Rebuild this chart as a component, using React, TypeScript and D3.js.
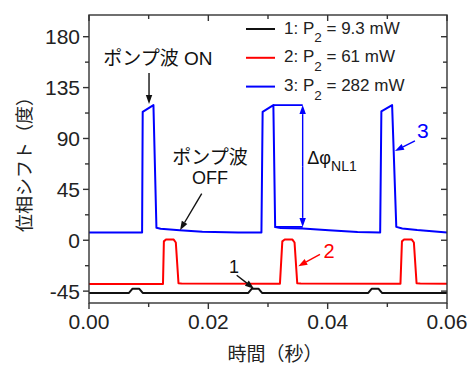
import React from "react";
import * as d3 from "d3";

const width = 470;
const height = 365;
const margin = { top: 15, right: 23, bottom: 62, left: 89 };

// [time (s), phase shift (deg)]
const series1: [number, number][] = [
  [0, -46.6], [0.0067, -46.6], [0.0073, -42.8], [0.0084, -42.8], [0.009, -46.6],
  [0.0267, -46.6], [0.0273, -42.8], [0.0284, -42.8], [0.029, -46.6],
  [0.0468, -46.6], [0.0474, -42.8], [0.0485, -42.8], [0.0491, -46.6], [0.06, -46.6],
];
const series2: [number, number][] = [
  [0, -38.8], [0.0124, -38.6], [0.01255, -1], [0.0129, 0.6], [0.0142, 0.6], [0.01455, -2],
  [0.015, -38], [0.0155, -38.3], [0.032, -38.5], [0.0324, -1], [0.0328, 0.6], [0.0341, 0.6],
  [0.03445, -2], [0.0349, -38], [0.0355, -38.3], [0.0522, -38.5], [0.05245, -1], [0.0528, 0.6],
  [0.0541, 0.6], [0.05445, -2], [0.0549, -38], [0.0555, -38.3], [0.06, -38.5],
];
const series3: [number, number][] = [
  [0, 6.9], [0.0089, 6.8], [0.009, 113.5], [0.0108, 119.5], [0.0113, 11], [0.012, 10.2],
  [0.0152, 8.9], [0.019, 7.6], [0.025, 6.9], [0.0289, 6.8], [0.0291, 113.5], [0.0309, 119.5],
  [0.0312, 11.6], [0.0321, 10.8], [0.0358, 10.3], [0.0402, 8.9], [0.045, 7.3], [0.0488, 6.8],
  [0.049, 114], [0.0508, 119.5], [0.0515, 11.8], [0.0525, 10.4], [0.055, 9.0], [0.06, 6.8],
];

const seriesColors = ["#111111", "#ff0000", "#0000ff"];
const legendNames = ["1", "2", "3"];
const legendValues = ["9.3 mW", "61 mW", "282 mW"];

const xTicks = [0, 0.02, 0.04, 0.06];
const xMinor = [0.01, 0.03, 0.05];
const yTicks = [-45, 0, 45, 90, 135, 180];
const yMinor = [-22.5, 22.5, 67.5, 112.5, 157.5];

const font = "'Liberation Sans', Arial, 'Noto Sans CJK JP', sans-serif";

const x = d3.scaleLinear().domain([0, 0.06]).range([margin.left, width - margin.right]);
const y = d3.scaleLinear().domain([-55.5, 199.2]).range([height - margin.bottom, margin.top]);

const line = d3
  .line<[number, number]>()
  .x(d => x(d[0]))
  .y(d => y(d[1]));

function Arrow({ from, to, color }: { from: [number, number]; to: [number, number]; color: string }) {
  const x1 = x(from[0]), y1 = y(from[1]), x2 = x(to[0]), y2 = y(to[1]);
  const a = Math.atan2(y2 - y1, x2 - x1);
  const len = 9, w = 3.2;
  const bx = x2 - len * Math.cos(a), by = y2 - len * Math.sin(a);
  const p = `${x2},${y2} ${bx + w * Math.sin(a)},${by - w * Math.cos(a)} ${bx - w * Math.sin(a)},${by + w * Math.cos(a)}`;
  return (
    <g>
      <line x1={x1} y1={y1} x2={bx} y2={by} stroke={color} strokeWidth={1.4} />
      <polygon points={p} fill={color} />
    </g>
  );
}

export default function App() {
  const x0 = margin.left, x1 = width - margin.right;
  const y0 = height - margin.bottom, y1 = margin.top;
  const axisColor = "#333";

  return (
    <svg width={width} height={height} style={{ position: "absolute", left: 0, top: 0 }} fontFamily={font}>
      <rect width={width} height={height} fill="#fff" />
      {/* data */}
      {[series1, series2, series3].map((s, i) => (
        <path key={i} d={line(s) || ""} fill="none" stroke={seriesColors[i]} strokeWidth={2} strokeLinejoin="round" />
      ))}

      {/* frame */}
      <rect x={x0} y={y1} width={x1 - x0} height={y0 - y1} fill="none" stroke={axisColor} strokeWidth={1.4} />
      {xTicks.map(t => (
        <g key={t}>
          <line x1={x(t)} x2={x(t)} y1={y0} y2={y0 + 6} stroke={axisColor} strokeWidth={1.4} />
          <line x1={x(t)} x2={x(t)} y1={y1} y2={y1 + 6} stroke={axisColor} strokeWidth={1.4} />
          <text x={x(t)} y={329} textAnchor="middle" fontSize={21} fill="#222">{t.toFixed(2)}</text>
        </g>
      ))}
      {xMinor.map(t => (
        <g key={t}>
          <line x1={x(t)} x2={x(t)} y1={y0} y2={y0 + 4} stroke={axisColor} strokeWidth={1.4} />
          <line x1={x(t)} x2={x(t)} y1={y1} y2={y1 + 4} stroke={axisColor} strokeWidth={1.4} />
        </g>
      ))}
      {yTicks.map(v => (
        <g key={v}>
          <line x1={x0 - 6} x2={x0} y1={y(v)} y2={y(v)} stroke={axisColor} strokeWidth={1.4} />
          <line x1={x1 - 6} x2={x1} y1={y(v)} y2={y(v)} stroke={axisColor} strokeWidth={1.4} />
          <text x={x0 - 9} y={y(v)} dy="0.36em" textAnchor="end" fontSize={21} fill="#222">{v}</text>
        </g>
      ))}
      {yMinor.map(v => (
        <g key={v}>
          <line x1={x0 - 4} x2={x0} y1={y(v)} y2={y(v)} stroke={axisColor} strokeWidth={1.4} />
          <line x1={x1 - 4} x2={x1} y1={y(v)} y2={y(v)} stroke={axisColor} strokeWidth={1.4} />
        </g>
      ))}

      {/* axis titles */}
      <text x={275} y={361} textAnchor="middle" fontSize={19} fill="#222">時間（秒）</text>
      <text transform="translate(25,160) rotate(-90)" textAnchor="middle" dy="0.36em" fontSize={18} fill="#222">位相シフト（度）</text>

      {/* legend */}
      {legendNames.map((n, i) => {
        const ly = 29 + i * 28.8;
        return (
          <g key={n}>
            <line x1={246} x2={275} y1={ly} y2={ly} stroke={seriesColors[i]} strokeWidth={2} />
            <text x={284} y={ly + 4.5} fontSize={17} fill="#222">
              {n}: P<tspan fontSize={13.5} dy={8.5}>2</tspan><tspan dy={-8.5}> = {legendValues[i]}</tspan>
            </text>
          </g>
        );
      })}

      {/* annotations */}
      <text x={x(0.01156)} y={y(154.9)} textAnchor="middle" fontSize={19} fill="#111">ポンプ波 ON</text>
      <Arrow from={[0.01006, 147.8]} to={[0.01006, 120.4]} color="#111" />
      <text x={x(0.02028)} y={y(67.3)} textAnchor="middle" fontSize={19} fill="#111">ポンプ波</text>
      <text x={x(0.02028)} y={y(50)} textAnchor="middle" fontSize={18} fill="#111">OFF</text>
      <Arrow from={[0.01889, 41.3]} to={[0.01525, 8.85]} color="#111" />

      <line x1={x(0.0309)} x2={x(0.03581)} y1={y(119.5)} y2={y(119.5)} stroke="#0000ff" strokeWidth={1.8} />
      <line x1={x(0.0312)} x2={x(0.03581)} y1={y(11.8)} y2={y(11.8)} stroke="#0000ff" strokeWidth={1.8} />
      <Arrow from={[0.03581, 65]} to={[0.03581, 119.5]} color="#0000ff" />
      <Arrow from={[0.03581, 65]} to={[0.03581, 11.8]} color="#0000ff" />
      <text x={x(0.03659)} y={y(67.3)} fontSize={18} fill="#111">
        Δφ<tspan fontSize={14} dy={7}>NL1</tspan>
      </text>

      <text x={x(0.05597)} y={y(90.3)} textAnchor="middle" fontSize={21} fill="#0000ff">3</text>
      <Arrow from={[0.05463, 87.9]} to={[0.05128, 79]} color="#0000ff" />
      <text x={x(0.04022)} y={y(-15.9)} textAnchor="middle" fontSize={20} fill="#ff0000">2</text>
      <Arrow from={[0.03871, -12.4]} to={[0.03508, -23]} color="#ff0000" />
      <text x={x(0.0243)} y={y(-29.2)} textAnchor="middle" fontSize={18} fill="#111">1</text>
      <Arrow from={[0.02475, -31]} to={[0.02765, -42.8]} color="#111" />
    </svg>
  );
}
